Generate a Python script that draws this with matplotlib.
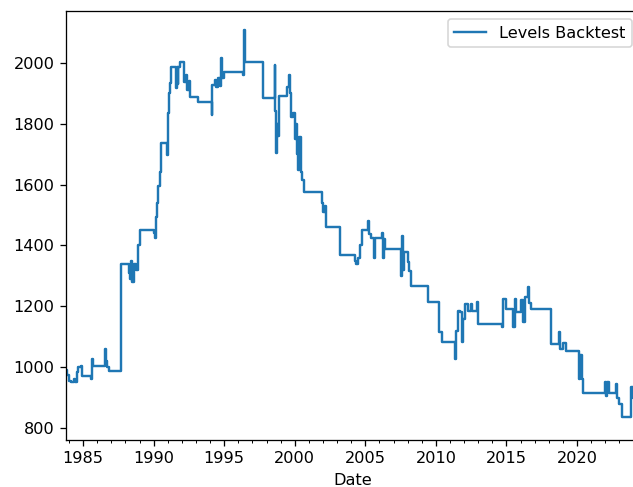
import pandas as pd
import matplotlib
matplotlib.use('Agg')
import matplotlib.pyplot as plt
import matplotlib.dates as mdates

# step points
dates = ['1983-10-15', '1983-11-20', '1984-01-01', '1984-03-01', '1984-05-01', '1984-06-01',
         '1984-07-15', '1984-08-20', '1984-11-01', '1984-12-15', '1985-08-01', '1985-08-15',
         '1985-09-01', '1986-07-15', '1986-08-01', '1986-08-20', '1986-09-15', '1986-11-01',
         '1987-09-10', '1988-04-01', '1988-05-01', '1988-06-01', '1988-07-01', '1988-08-15',
         '1988-10-01', '1988-11-15', '1989-01-01', '1990-01-15', '1990-02-15', '1990-03-01',
         '1990-04-01', '1990-05-01', '1990-06-01', '1990-07-01', '1990-12-01', '1990-12-20',
         '1991-01-10', '1991-02-01', '1991-02-20', '1991-03-15', '1991-08-01', '1991-08-15',
         '1991-09-15', '1991-10-01', '1991-11-15', '1992-03-01', '1992-04-15', '1992-05-15',
         '1992-07-01', '1992-08-01', '1993-03-01', '1994-02-15', '1994-03-01', '1994-05-01',
         '1994-06-01', '1994-07-15', '1994-09-01', '1994-10-01', '1994-11-01', '1995-01-01',
         '1996-05-01', '1996-06-01', '1996-06-20', '1996-07-01', '1997-10-01', '1998-08-01',
         '1998-08-20', '1998-09-10', '1998-10-01', '1998-10-20', '1998-11-10', '1999-06-15',
         '1999-08-01', '1999-08-20', '1999-10-01', '1999-11-15', '2000-01-01', '2000-02-01',
         '2000-03-01', '2000-04-01', '2000-05-01', '2000-06-01', '2000-07-01', '2000-09-01',
         '2001-12-01', '2002-01-01', '2002-03-01', '2002-04-01', '2003-03-15', '2004-04-01',
         '2004-05-15', '2004-07-01', '2004-08-15', '2004-10-01', '2005-03-01', '2005-04-01',
         '2005-06-01', '2005-08-01', '2005-09-01', '2006-03-01', '2006-04-01', '2006-05-01',
         '2006-06-01', '2007-07-01', '2007-08-01', '2007-09-01', '2007-10-01', '2008-01-01',
         '2008-02-15', '2008-04-01', '2009-06-01', '2010-04-01', '2010-06-01', '2011-05-01',
         '2011-06-01', '2011-08-01', '2011-09-15', '2011-11-01', '2011-12-01', '2012-02-01',
         '2012-04-01', '2012-07-01', '2012-08-01', '2012-12-01', '2012-12-20', '2014-09-01',
         '2014-10-01', '2015-01-01', '2015-07-01', '2015-08-01', '2015-09-01', '2016-01-01',
         '2016-03-01', '2016-05-01', '2016-07-01', '2016-08-15', '2016-10-01', '2018-03-01',
         '2018-10-01', '2018-11-01', '2019-01-01', '2019-04-01', '2020-03-01', '2020-04-01',
         '2020-05-01', '2020-06-01', '2022-01-01', '2022-02-01', '2022-03-01', '2022-04-01',
         '2022-10-01', '2022-11-01', '2023-01-01', '2023-03-01', '2023-11-01', '2024-01-01',
         '2024-03-01', '2024-06-20']
values = [990, 975, 955, 952, 960, 950,
          985, 1000, 1003, 970, 960, 1026,
          1003, 1040, 1059, 1020, 1000, 987,
          1338, 1310, 1290, 1350, 1280, 1340,
          1320, 1400, 1452, 1440, 1425, 1495,
          1540, 1594, 1640, 1738, 1720, 1698,
          1836, 1900, 1934, 1987, 1918, 1987,
          1930, 1987, 2003, 1938, 1960, 1911,
          1940, 1889, 1872, 1829, 1928, 1945,
          1920, 1950, 1925, 2016, 1950, 1970,
          1961, 2108, 2040, 2003, 1885, 1993,
          1840, 1705, 1800, 1760, 1892, 1920,
          1961, 1900, 1823, 1836, 1748, 1800,
          1700, 1649, 1757, 1640, 1616, 1574,
          1540, 1510, 1528, 1462, 1370, 1350,
          1340, 1360, 1400, 1452, 1479, 1436,
          1426, 1360, 1426, 1442, 1360, 1420,
          1387, 1298, 1430, 1320, 1380, 1344,
          1315, 1266, 1213, 1115, 1082, 1026,
          1120, 1184, 1180, 1082, 1157, 1207,
          1184, 1207, 1184, 1213, 1141, 1131,
          1223, 1190, 1131, 1223, 1180, 1222,
          1150, 1230, 1262, 1210, 1190, 1075,
          1115, 1060, 1080, 1052, 961, 1040,
          961, 915, 950, 905, 951, 915,
          945, 900, 879, 836, 935, 900,
          930, 930]

df = pd.DataFrame({'Levels Backtest': values}, index=pd.to_datetime(dates))
df.index.name = 'Date'

# the reference looks like a ~116 dpi render, cropped
dpi = 116
fig = plt.figure(figsize=(633 / dpi, 487 / dpi), dpi=dpi)
ax = fig.add_axes([66 / 633, 47 / 487, 574 / 633, 429 / 487])
ax.plot(df.index, df['Levels Backtest'], drawstyle='steps-post', color='tab:blue', label='Levels Backtest')

ax.set_xlim(df.index[0], df.index[-1])
ax.set_ylim(761, 2170)
ax.xaxis.set_major_locator(mdates.YearLocator(5))
ax.xaxis.set_minor_locator(mdates.YearLocator(1))
ax.xaxis.set_major_formatter(mdates.DateFormatter('%Y'))
ax.set_xlabel('Date')
ax.legend(loc='upper right')

fig.savefig('out.png', dpi=dpi)
